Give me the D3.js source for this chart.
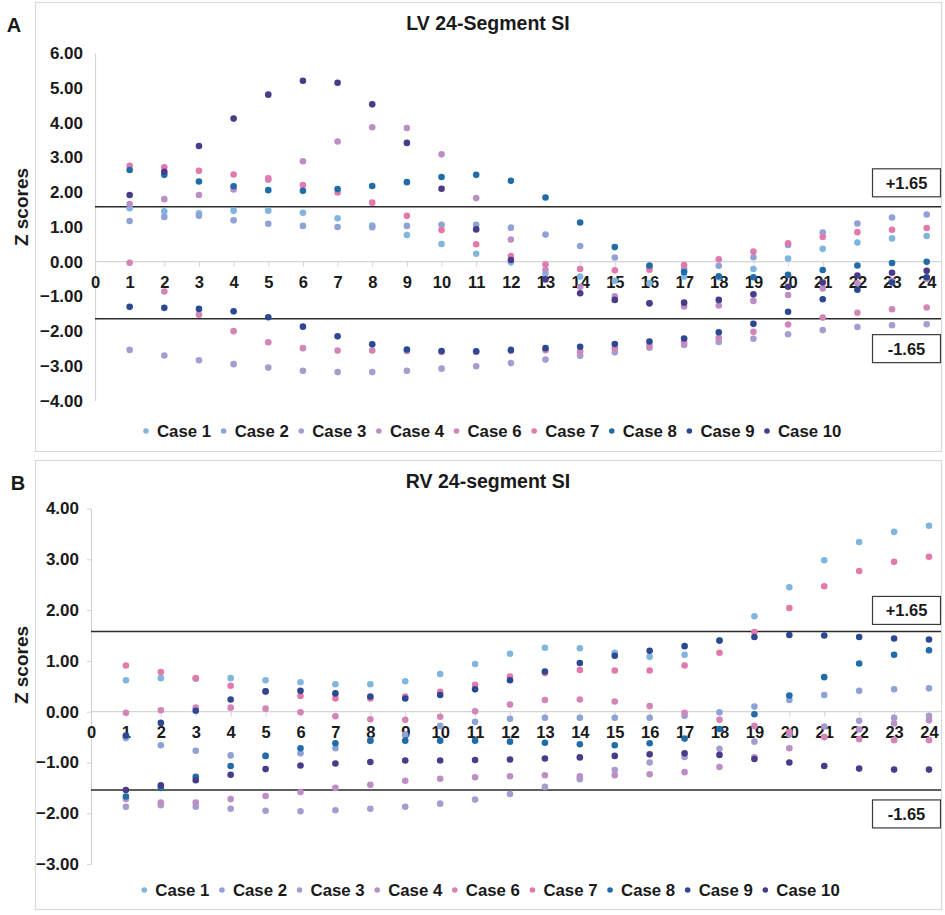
<!DOCTYPE html>
<html lang="en">
<head>
    <meta charset="UTF-8">
    <title>LV / RV 24-Segment SI</title>
    <script src="https://d3js.org/d3.v7.min.js"></script>
    <style>
        body { margin: 0; background: #fff; }
        svg text { font-family: "Liberation Sans", Arial, sans-serif; font-weight: bold; fill: #1a1a1a; }
    </style>
</head>
<body>
    <div id="chart"></div>

    <script>
        // segment numbers on the x axis
        const segmentTicks = [0, 1, 2, 3, 4, 5, 6, 7, 8, 9, 10, 11, 12, 13, 14, 15, 16, 17, 18, 19, 20, 21, 22, 23, 24];
        const segments = segmentTicks.slice(1);

        const caseNames = ['Case 1', 'Case 2', 'Case 3', 'Case 4', 'Case 6', 'Case 7', 'Case 8', 'Case 9', 'Case 10'];
        const caseColors = ['#80b5de', '#8fa2d6', '#a79ccf', '#bc8fc4', '#d285b6', '#e379ab', '#1f6ca8', '#2d4892', '#483b89'];

        // LV z scores per segment (1..24)
        const lvCase1 = [1.54, 1.45, 1.39, 1.47, 1.47, 1.41, 1.25, 1.04, 0.77, 0.51, 0.23, -0.02, -0.35, -0.43, -0.55, -0.62, -0.43, -0.45, -0.21, 0.09, 0.37, 0.55, 0.67, 0.74];
        const lvCase2 = [1.17, 1.29, 1.32, 1.19, 1.09, 1.03, 1.00, 0.99, 1.03, 1.06, 1.06, 0.98, 0.78, 0.45, 0.12, -0.15, -0.22, -0.12, 0.13, 0.48, 0.84, 1.10, 1.27, 1.36];
        const lvCase3 = [-2.54, -2.70, -2.84, -2.95, -3.05, -3.14, -3.18, -3.18, -3.14, -3.08, -3.01, -2.92, -2.82, -2.71, -2.61, -2.48, -2.40, -2.31, -2.22, -2.09, -1.97, -1.88, -1.83, -1.80];
        const lvCase4 = [1.66, 1.80, 1.92, 2.08, 2.36, 2.89, 3.46, 3.87, 3.85, 3.09, 1.83, 0.64, -0.24, -0.72, -1.00, -1.20, -1.29, -1.26, -1.13, -0.96, -0.77, -0.62, -0.55, -0.50];
        const lvCase6 = [-0.03, -0.86, -1.53, -2.00, -2.32, -2.49, -2.56, -2.56, -2.57, -2.60, -2.60, -2.57, -2.55, -2.59, -2.49, -2.42, -2.32, -2.19, -2.02, -1.81, -1.61, -1.47, -1.37, -1.32];
        const lvCase7 = [2.76, 2.72, 2.62, 2.51, 2.40, 2.21, 1.99, 1.70, 1.32, 0.91, 0.50, 0.16, -0.08, -0.21, -0.25, -0.23, -0.10, 0.07, 0.29, 0.53, 0.71, 0.85, 0.92, 0.97];
        const lvCase8 = [2.64, 2.50, 2.31, 2.17, 2.06, 2.04, 2.09, 2.18, 2.29, 2.44, 2.50, 2.33, 1.85, 1.13, 0.42, -0.11, -0.30, -0.42, -0.45, -0.38, -0.24, -0.11, -0.04, 0.00];
        const lvCase9 = [-1.30, -1.33, -1.36, -1.43, -1.60, -1.87, -2.15, -2.38, -2.53, -2.57, -2.58, -2.54, -2.49, -2.45, -2.37, -2.30, -2.21, -2.03, -1.79, -1.44, -1.08, -0.81, -0.60, -0.45];
        const lvCase10 = [1.92, 2.59, 3.33, 4.12, 4.81, 5.21, 5.15, 4.53, 3.42, 2.10, 0.93, 0.05, -0.51, -0.91, -1.10, -1.20, -1.18, -1.10, -0.94, -0.72, -0.60, -0.40, -0.32, -0.26];

        // RV z scores per segment (1..24)
        const rvCase1 = [0.62, 0.66, 0.65, 0.66, 0.62, 0.58, 0.54, 0.54, 0.60, 0.74, 0.94, 1.14, 1.26, 1.25, 1.16, 1.08, 1.12, 1.40, 1.88, 2.45, 2.98, 3.34, 3.54, 3.66];
        const rvCase2 = [-0.52, -0.66, -0.77, -0.86, -0.87, -0.82, -0.72, -0.57, -0.45, -0.28, -0.20, -0.14, -0.12, -0.12, -0.12, -0.12, -0.08, -0.01, 0.10, 0.23, 0.33, 0.41, 0.44, 0.46];
        const rvCase3 = [-1.87, -1.84, -1.87, -1.91, -1.95, -1.96, -1.94, -1.91, -1.87, -1.81, -1.73, -1.62, -1.48, -1.33, -1.15, -1.00, -0.89, -0.73, -0.59, -0.45, -0.29, -0.18, -0.12, -0.08];
        const rvCase4 = [-1.72, -1.79, -1.79, -1.72, -1.66, -1.58, -1.50, -1.44, -1.36, -1.32, -1.29, -1.27, -1.25, -1.27, -1.25, -1.23, -1.19, -1.09, -0.90, -0.72, -0.50, -0.35, -0.23, -0.17];
        const rvCase6 = [-0.02, 0.03, 0.08, 0.08, 0.06, -0.01, -0.09, -0.15, -0.16, -0.10, 0.01, 0.14, 0.23, 0.24, 0.20, 0.11, -0.02, -0.16, -0.28, -0.40, -0.50, -0.54, -0.56, -0.56];
        const rvCase7 = [0.91, 0.78, 0.66, 0.51, 0.40, 0.31, 0.26, 0.26, 0.30, 0.39, 0.53, 0.69, 0.76, 0.82, 0.81, 0.81, 0.91, 1.16, 1.57, 2.04, 2.47, 2.77, 2.95, 3.05];
        const rvCase8 = [-1.67, -1.50, -1.28, -1.07, -0.87, -0.72, -0.62, -0.57, -0.57, -0.57, -0.57, -0.59, -0.61, -0.64, -0.66, -0.62, -0.53, -0.34, -0.05, 0.32, 0.68, 0.95, 1.12, 1.21];
        const rvCase9 = [-0.47, -0.22, 0.02, 0.24, 0.40, 0.41, 0.36, 0.30, 0.26, 0.33, 0.44, 0.62, 0.79, 0.96, 1.10, 1.20, 1.29, 1.40, 1.47, 1.51, 1.50, 1.47, 1.44, 1.42];
        const rvCase10 = [-1.54, -1.45, -1.35, -1.24, -1.13, -1.06, -1.02, -0.99, -0.96, -0.96, -0.95, -0.94, -0.92, -0.90, -0.87, -0.84, -0.82, -0.85, -0.93, -1.00, -1.07, -1.12, -1.14, -1.14];

        // y ticks and cut-off lines (lines sit where the picture draws them)
        const lvTicks = [-4, -3, -2, -1, 0, 1, 2, 3, 4, 5, 6];
        const rvTicks = [-3, -2, -1, 0, 1, 2, 3, 4];
        const lvCutoffs = [1.58, -1.64];
        const rvCutoffs = [1.58, -1.54];
        const cutoffLabels = ['+1.65', '-1.65'];

        const width = 945;
        const height = 915;

        const svg = d3.select('#chart').append('svg')
            .attr('width', width)
            .attr('height', height);

        drawPanel({
            top: 0, letter: 'A', title: 'LV 24-Segment SI',
            series: [lvCase1, lvCase2, lvCase3, lvCase4, lvCase6, lvCase7, lvCase8, lvCase9, lvCase10],
            ticks: lvTicks, cutoffs: lvCutoffs,
            x0: 95, x1: 926.7, yTop: 53.3, yBottom: 400.6,
            tickSize: 0, letterX: 14,
            boxGap: [10, 16], zLabelY: 207, legendY: 431, legendX: 146
        });

        drawPanel({
            top: 458, letter: 'B', title: 'RV 24-segment SI',
            series: [rvCase1, rvCase2, rvCase3, rvCase4, rvCase6, rvCase7, rvCase8, rvCase9, rvCase10],
            ticks: rvTicks, cutoffs: rvCutoffs,
            x0: 91, x1: 929, yTop: 508.5, yBottom: 864.1,
            tickSize: 4, letterX: 18,
            boxGap: [7, 10], zLabelY: 665, legendY: 890, legendX: 144.3
        });

        function drawPanel(cfg) {
            const rightEnd = 941;
            const g = svg.append('g');

            // panel frame
            g.append('rect')
                .attr('x', 35.5)
                .attr('y', cfg.top + 2.5)
                .attr('width', 906)
                .attr('height', 449)
                .attr('fill', 'none')
                .attr('stroke', '#d9d9d9')
                .attr('stroke-width', 1.2);

            const x = d3.scaleLinear()
                .domain([0, 24])
                .range([cfg.x0, cfg.x1]);

            const y = d3.scaleLinear()
                .domain([d3.min(cfg.ticks), d3.max(cfg.ticks)])
                .range([cfg.yBottom, cfg.yTop]);

            // panel letter and title
            g.append('text')
                .attr('x', cfg.letterX)
                .attr('y', cfg.top + 32)
                .attr('text-anchor', 'middle')
                .style('font-size', '20px')
                .text(cfg.letter);

            g.append('text')
                .attr('x', 488)
                .attr('y', cfg.top + 30)
                .attr('text-anchor', 'middle')
                .style('font-size', '19.5px')
                .text(cfg.title);

            // y axis
            const yAxis = g.append('g')
                .attr('transform', 'translate(' + cfg.x0 + ',0)')
                .call(d3.axisLeft(y)
                    .tickValues(cfg.ticks)
                    .tickFormat(d3.format('.2f'))
                    .tickSize(cfg.tickSize)
                    .tickSizeOuter(0)
                    .tickPadding(12 - cfg.tickSize));
            yAxis.select('.domain').attr('stroke', '#d4d4d4').attr('stroke-width', 1.2);
            yAxis.selectAll('.tick line').attr('stroke', '#d4d4d4');
            yAxis.selectAll('text')
                .attr('fill', '#1a1a1a')
                .style('font-family', '"Liberation Sans", Arial, sans-serif')
                .style('font-weight', 'bold')
                .style('font-size', '17px');

            g.append('text')
                .attr('transform', 'translate(28,' + cfg.zLabelY + ') rotate(-90)')
                .attr('text-anchor', 'middle')
                .style('font-size', '19px')
                .text('Z scores');

            // zero line with segment numbers
            g.append('line')
                .attr('x1', cfg.x0)
                .attr('x2', rightEnd)
                .attr('y1', y(0))
                .attr('y2', y(0))
                .attr('stroke', '#d4d4d4')
                .attr('stroke-width', 1.2);

            const xAxis = g.append('g')
                .attr('transform', 'translate(0,' + y(0) + ')')
                .call(d3.axisBottom(x)
                    .tickValues(segmentTicks)
                    .tickFormat(d3.format('d'))
                    .tickSize(5)
                    .tickPadding(10));
            xAxis.select('.domain').remove();
            xAxis.selectAll('.tick line').attr('stroke', '#d4d4d4');
            xAxis.selectAll('text')
                .attr('fill', '#1a1a1a')
                .style('font-family', '"Liberation Sans", Arial, sans-serif')
                .style('font-weight', 'bold')
                .style('font-size', '16.5px');

            // cut-off lines
            g.selectAll('.cutoff')
                .data(cfg.cutoffs)
                .enter().append('line')
                .attr('class', 'cutoff')
                .attr('x1', cfg.x0)
                .attr('x2', rightEnd)
                .attr('y1', d => y(d))
                .attr('y2', d => y(d))
                .attr('stroke', '#2a2a2a')
                .attr('stroke-width', 1.5);

            // points, case 1 drawn first, case 10 on top
            cfg.series.forEach((vals, i) => {
                g.append('g')
                    .selectAll('circle')
                    .data(vals)
                    .enter().append('circle')
                    .attr('cx', (d, j) => x(segments[j]))
                    .attr('cy', d => y(d))
                    .attr('r', 3.3)
                    .attr('fill', caseColors[i]);
            });

            // boxed cut-off labels
            cfg.cutoffs.forEach((c, i) => {
                const boxH = 28;
                const by = i === 0 ? y(c) - cfg.boxGap[0] - boxH : y(c) + cfg.boxGap[1];
                g.append('rect')
                    .attr('x', 872.5)
                    .attr('y', by)
                    .attr('width', 68)
                    .attr('height', boxH)
                    .attr('fill', '#fff')
                    .attr('stroke', '#3a3a3a')
                    .attr('stroke-width', 1.2);
                g.append('text')
                    .attr('x', 906.5)
                    .attr('y', by + boxH / 2)
                    .attr('dy', '0.36em')
                    .attr('text-anchor', 'middle')
                    .style('font-size', '16.5px')
                    .text(cutoffLabels[i]);
            });

            // legend
            let lx = cfg.legendX;
            caseNames.forEach((name, i) => {
                g.append('circle')
                    .attr('cx', lx)
                    .attr('cy', cfg.legendY)
                    .attr('r', 2.8)
                    .attr('fill', caseColors[i]);
                const t = g.append('text')
                    .attr('x', lx + 11)
                    .attr('y', cfg.legendY)
                    .attr('dy', '0.36em')
                    .style('font-size', '16.8px')
                    .text(name);
                lx += 11 + t.node().getComputedTextLength() + 12.5;
            });
        }
    </script>
</body>
</html>
